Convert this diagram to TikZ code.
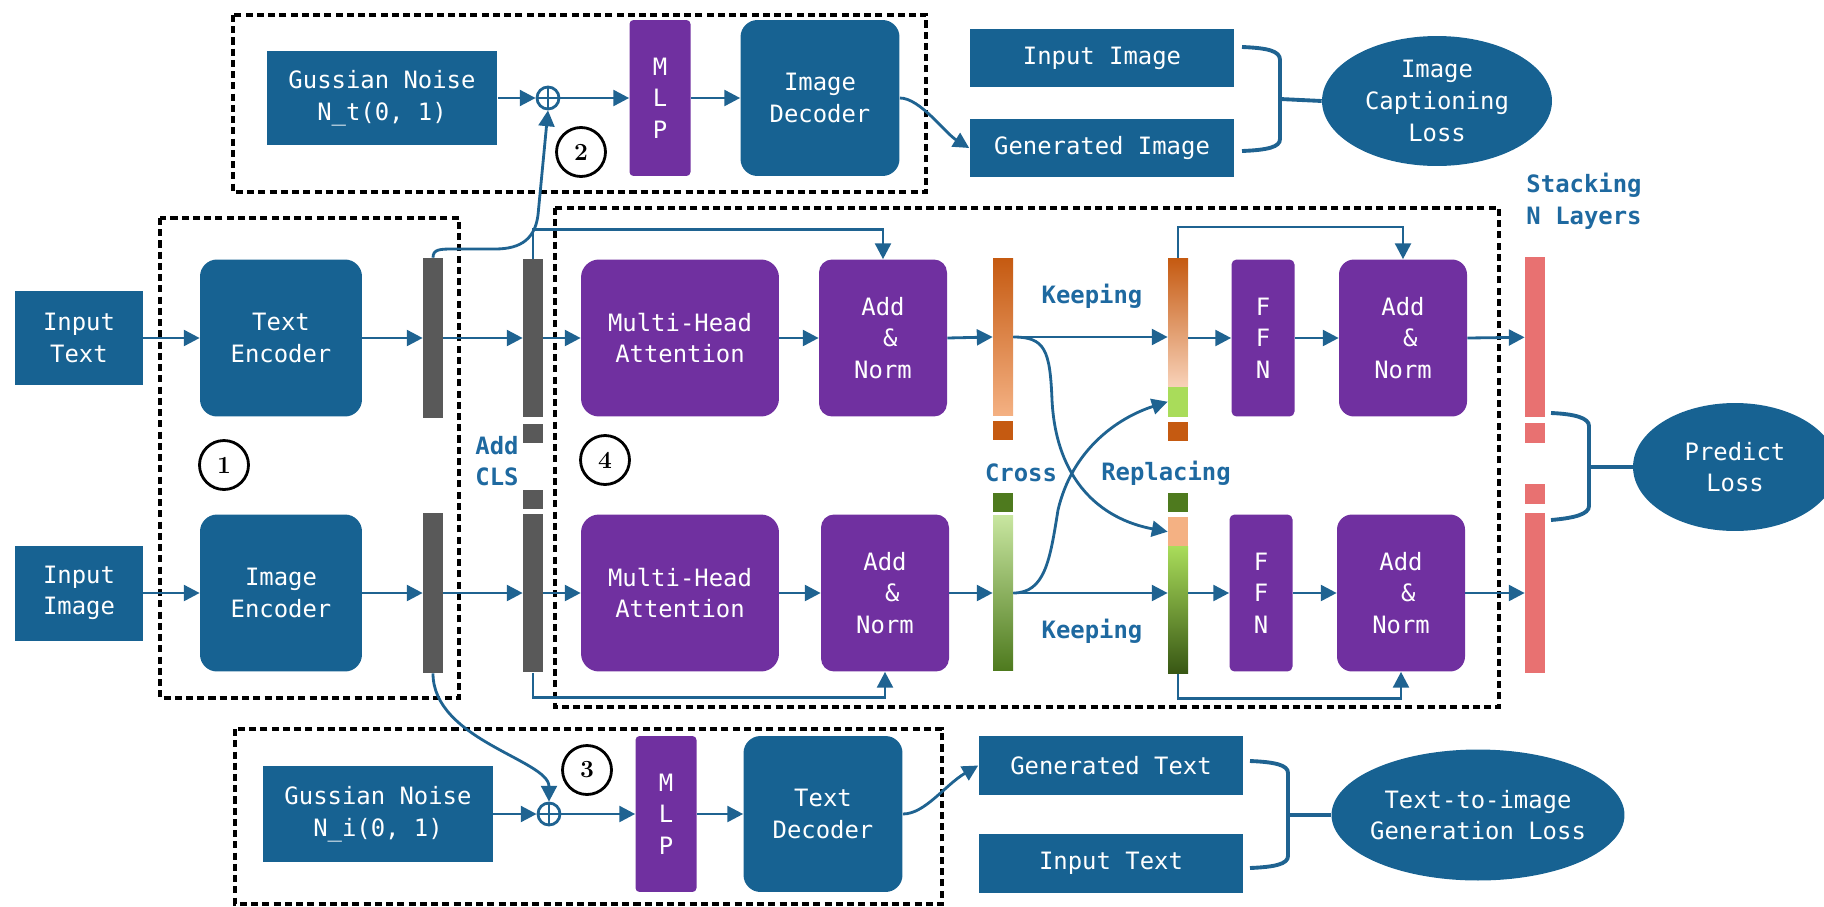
\documentclass[tikz,border=0pt]{standalone}
\usepackage{fontspec}
\newfontfamily\diagmono{DejaVu Sans Mono}
\newcommand{\boxfont}{\diagmono\fontsize{13.6}{18}\selectfont}
\usepackage{tikz}
\usetikzlibrary{positioning,arrows.meta,calc,shapes.geometric}
\definecolor{boxblue}{RGB}{23,98,146}
\definecolor{flowblue}{RGB}{31,99,145}
\definecolor{tagblue}{RGB}{30,105,160}
\definecolor{attnpurple}{RGB}{112,48,160}
\definecolor{bargray}{RGB}{89,89,89}
\definecolor{ordark}{RGB}{197,90,17}
\definecolor{orlight}{RGB}{244,177,131}
\definecolor{orpale}{RGB}{248,210,185}
\definecolor{grlight}{RGB}{200,230,160}
\definecolor{grdark}{RGB}{78,122,30}
\definecolor{grmid}{RGB}{169,220,90}
\definecolor{grdeep}{RGB}{56,87,20}
\definecolor{losspink}{RGB}{232,113,113}

\begin{document}
\begin{tikzpicture}[x=0.02cm,y=-0.02cm,
            every node/.style={inner sep=0pt,font=\boxfont},
            bluebox/.style={fill=boxblue,text=white,align=center},
            attnbox/.style={fill=attnpurple,text=white,align=center,rounded corners=#1},
            attnbox/.default=0.3cm,
            lossoval/.style={ellipse,fill=boxblue,text=white,align=center},
            vecbar/.style={minimum width=0.4cm,minimum height=#1},
            tag/.style={text=tagblue,font=\boxfont\bfseries,align=center},
            numcirc/.style={circle,draw=black,line width=1.6pt,minimum size=0.98cm,
                            font=\rmfamily\bfseries\fontsize{14}{16}\selectfont},
            oplus/.style={circle,draw=flowblue,line width=1.6pt,minimum size=0.44cm,
                          path picture={\draw[flowblue,line width=1.6pt]
                            (path picture bounding box.north) -- (path picture bounding box.south)
                            (path picture bounding box.west) -- (path picture bounding box.east);}},
            flow/.style={draw=flowblue,line width=1.6pt,-{Triangle[length=9pt,width=9pt]}},
            link/.style={draw=flowblue,line width=2.2pt},
            groupbox/.style={draw=black,line width=2pt,dash pattern=on 4pt off 2.4pt}]
        \useasboundingbox (0,0) rectangle (1824,906);

        \draw[groupbox] (233,15) rectangle (926,192);
        \draw[groupbox] (160,218) rectangle (459,698);
        \draw[groupbox] (555,208) rectangle (1499,707);
        \draw[groupbox] (235,729) rectangle (942,904);

        \node[bluebox,minimum width=4.62cm,minimum height=1.88cm] (noiseT) at (382,98) {Gussian Noise\\N\_t(0, 1)};
        \node[oplus] (oplusT) at (548,98) {};
        \node[numcirc] (num2) at (581,152) {2};
        \node[attnbox=0.08cm,minimum width=1.22cm,minimum height=3.12cm] (mlpT) at (660,98) {M\\L\\P};
        \node[bluebox,rounded corners=0.34cm,minimum width=3.18cm,minimum height=3.12cm] (decT) at (820,98) {Image\\Decoder};
        \node[bluebox,minimum width=5.3cm,minimum height=1.18cm] (refImg) at (1102,58) {Input Image};
        \node[bluebox,minimum width=5.3cm,minimum height=1.18cm] (genImg) at (1102,148) {Generated Image};
        \node[lossoval,minimum width=4.6cm,minimum height=2.6cm] (capLoss) at (1437,101) {Image\\Captioning\\Loss};

        \node[bluebox,minimum width=2.56cm,minimum height=1.88cm] (inText) at (79,338) {Input\\Text};
        \node[bluebox,minimum width=2.56cm,minimum height=1.9cm] (inImg) at (79,593) {Input\\Image};
        \node[bluebox,rounded corners=0.34cm,minimum width=3.24cm,minimum height=3.14cm] (txtEnc) at (281,338) {Text\\Encoder};
        \node[bluebox,rounded corners=0.34cm,minimum width=3.24cm,minimum height=3.14cm] (imgEnc) at (281,593) {Image\\Encoder};
        \node[vecbar=3.2cm,fill=bargray] (featT) at (433,338) {};
        \node[vecbar=3.2cm,fill=bargray] (featB) at (433,593) {};
        \node[vecbar=3.16cm,fill=bargray] (clsT) at (533,338) {};
        \node[vecbar=0.38cm,fill=bargray] (clsTokT) at (533,433) {};
        \node[vecbar=0.38cm,fill=bargray] (clsTokB) at (533,499) {};
        \node[vecbar=3.18cm,fill=bargray] (clsB) at (533,593) {};
        \node[numcirc] (num1) at (224,465) {1};
        \node[tag] (addCls) at (497,461) {Add\\CLS};

        \node[numcirc] (num4) at (605,460) {4};
        \node[attnbox=0.36cm,minimum width=3.96cm,minimum height=3.14cm] (mhaT) at (680,338) {Multi-Head\\Attention};
        \node[attnbox=0.36cm,minimum width=3.96cm,minimum height=3.14cm] (mhaB) at (680,593) {Multi-Head\\Attention};
        \node[attnbox=0.26cm,minimum width=2.56cm,minimum height=3.14cm] (anT) at (883,338) {Add\\\hphantom{x}\&\\Norm};
        \node[attnbox=0.26cm,minimum width=2.56cm,minimum height=3.14cm] (anB) at (885,593) {Add\\\hphantom{x}\&\\Norm};
        \node[vecbar=3.16cm,top color=ordark,bottom color=orlight] (orBar) at (1003,337) {};
        \node[vecbar=0.38cm,fill=ordark] (orTok) at (1003,430) {};
        \node[vecbar=0.38cm,fill=grdark] (grTok) at (1003,502) {};
        \node[vecbar=3.1cm,top color=grlight,bottom color=grdark] (grBar) at (1003,593) {};
        \node[tag] (crossTag) at (1021,473) {Cross};
        \node[tag] (keepT) at (1092,296) {Keeping};
        \node[tag] (keepB) at (1092,631) {Keeping};
        \node[tag] (replTag) at (1166,473) {Replacing};

        \node[vecbar=2.57cm,top color=ordark,bottom color=orpale] (mixT) at (1178,322.5) {};
        \node[vecbar=0.6cm,fill=grmid] (mixTg) at (1178,401.7) {};
        \node[vecbar=0.38cm,fill=ordark] (mixTok) at (1178,431.7) {};
        \node[vecbar=0.38cm,fill=grdark] (mixBtok) at (1178,502) {};
        \node[vecbar=0.6cm,fill=orlight] (mixBo) at (1178,531.7) {};
        \node[vecbar=2.53cm,top color=grmid,bottom color=grdeep] (mixB) at (1178,609.9) {};
        \node[attnbox=0.1cm,minimum width=1.26cm,minimum height=3.14cm] (ffnT) at (1263,338) {F\\F\\N};
        \node[attnbox=0.1cm,minimum width=1.26cm,minimum height=3.14cm] (ffnB) at (1261,593) {F\\F\\N};
        \node[attnbox=0.3cm,minimum width=2.56cm,minimum height=3.14cm] (an2T) at (1403,338) {Add\\\hphantom{x}\&\\Norm};
        \node[attnbox=0.3cm,minimum width=2.56cm,minimum height=3.14cm] (an2B) at (1401,593) {Add\\\hphantom{x}\&\\Norm};

        \node[vecbar=3.2cm,fill=losspink] (outT) at (1535,337.3) {};
        \node[vecbar=0.4cm,fill=losspink] (outTokT) at (1535,432.7) {};
        \node[vecbar=0.4cm,fill=losspink] (outTokB) at (1535,494) {};
        \node[vecbar=3.19cm,fill=losspink] (outB) at (1535,593) {};
        \node[tag] (stackTag) at (1584,201) {Stacking\\N Layers};
        \node[lossoval,minimum width=4.08cm,minimum height=2.56cm] (predLoss) at (1735,467) {Predict\\Loss};

        \node[bluebox,minimum width=4.6cm,minimum height=1.92cm] (noiseB) at (378,814) {Gussian Noise\\N\_i(0, 1)};
        \node[oplus] (oplusB) at (549,814) {};
        \node[numcirc] (num3) at (587,770) {3};
        \node[attnbox=0.08cm,minimum width=1.22cm,minimum height=3.12cm] (mlpB) at (666,814) {M\\L\\P};
        \node[bluebox,rounded corners=0.34cm,minimum width=3.18cm,minimum height=3.12cm] (decB) at (823,814) {Text\\Decoder};
        \node[bluebox,minimum width=5.3cm,minimum height=1.18cm] (genTxt) at (1111,765.5) {Generated Text};
        \node[bluebox,minimum width=5.3cm,minimum height=1.18cm] (refTxt) at (1111,863.3) {Input Text};
        \node[lossoval,minimum width=5.86cm,minimum height=2.62cm,inner xsep=-3pt] (genLoss) at (1478,815) {Text-to-image\\Generation Loss};

        \draw[flow] (noiseT.east) -- (oplusT.west);
        \draw[flow] (oplusT.east) -- (mlpT.west);
        \draw[flow] (mlpT.east) -- (decT.west);
        \draw[flow] (decT.east) .. controls (920,98) and (945,133) .. (genImg.west);
        \draw[flow] (featT.north) .. controls (433,249) and (440,249) .. (455,249) -- (495,249)
              .. controls (522,249) and (535,238) .. (538,215) -- (oplusT.south);

        \draw[flow] (inText.east) -- (txtEnc.west);
        \draw[flow] (txtEnc.east) -- (featT.west);
        \draw[flow] (featT.east) -- (clsT.west);
        \draw[flow] (clsT.east) -- (mhaT.west);
        \draw[flow] (mhaT.east) -- (anT.west);
        \draw[flow] (anT.east) -- (orBar.west);
        \draw[flow] (clsT.north) -- ++(0,-29) -| (anT.north);
        \draw[flow] (inImg.east) -- (imgEnc.west);
        \draw[flow] (imgEnc.east) -- (featB.west);
        \draw[flow] (featB.east) -- (clsB.west);
        \draw[flow] (clsB.east) -- (mhaB.west);
        \draw[flow] (mhaB.east) -- (anB.west);
        \draw[flow] (anB.east) -- (grBar.west);
        \draw[flow] (clsB.south) -- ++(0,25) -| (anB.south);

        \draw[flow] (orBar.east) -- (orBar.east -| mixT.west);
        \draw[flow] (orBar.east) .. controls (1045,337) and (1050,350) .. (1052,400)
              .. controls (1056,480) and (1100,519) .. (mixBo.west);
        \draw[flow] (grBar.east) -- (grBar.east -| mixB.west);
        \draw[flow] (grBar.east) .. controls (1045,593) and (1050,560) .. (1058,510)
              .. controls (1072,450) and (1117,418) .. (mixTg.west);
        \draw[flow] (ffnT.west -| mixT.east) -- (ffnT.west);
        \draw[flow] (ffnT.east) -- (an2T.west);
        \draw[flow] (an2T.east) -- (outT.west);
        \draw[flow] (mixT.north) -- ++(0,-31) -| (an2T.north);
        \draw[flow] (ffnB.west -| mixB.east) -- (ffnB.west);
        \draw[flow] (ffnB.east) -- (an2B.west);
        \draw[flow] (an2B.east) -- (outB.west);
        \draw[flow] (mixB.south) -- ++(0,25) -| (an2B.south);

        \draw[flow] (featB.south) .. controls (433,740) and (549,760) .. (oplusB.north);
        \draw[flow] (noiseB.east) -- (oplusB.west);
        \draw[flow] (oplusB.east) -- (mlpB.west);
        \draw[flow] (mlpB.east) -- (decB.west);
        \draw[flow] (decB.east) .. controls (925,814) and (945,785) .. (genTxt.west);

        \coordinate (capJoin) at (1280,99);
        \coordinate (predJoin) at (1589,467);
        \coordinate (genJoin) at (1288,815);
        \draw[link] (1242,47) .. controls (1268,48) and (1280,51) .. (1280,60) -- (1280,139)
              .. controls (1280,147) and (1268,150) .. (1242,151);
        \draw[link] (capJoin) -- (capLoss.west);
        \draw[link] (1551,413) .. controls (1575,414) and (1589,418) .. (1589,426) -- (1589,506)
              .. controls (1589,514) and (1575,518) .. (1551,520);
        \draw[link] (predJoin) -- (predLoss.west);
        \draw[link] (1250,761) .. controls (1275,762) and (1288,765) .. (1288,773) -- (1288,856)
              .. controls (1288,864) and (1275,867) .. (1250,868);
        \draw[link] (genJoin) -- (genLoss.west);
        \end{tikzpicture}
\end{document}
